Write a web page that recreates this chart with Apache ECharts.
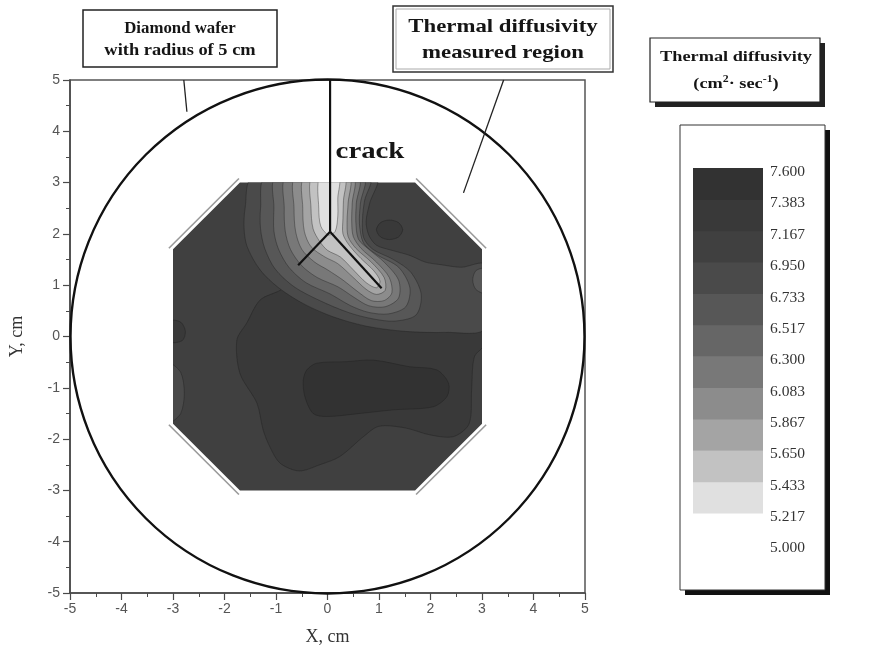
<!DOCTYPE html>
<html><head><meta charset="utf-8">
<script src="https://cdn.jsdelivr.net/npm/echarts@6/dist/echarts.min.js"></script>
<style>html,body{margin:0;padding:0;background:#fff}#c{width:869px;height:654px}</style>
</head><body><div id="c"></div>
<script>
// ---- colour scale (legend) ----
const levels = [5.000, 5.217, 5.433, 5.650, 5.867, 6.083, 6.300, 6.517, 6.733, 6.950, 7.167, 7.383, 7.600];
// one colour per drawn band, from [5.217,5.433] up to [7.383,7.600]
const bandColors = ['#e0e0e0','#c2c2c2','#a4a4a4','#8c8c8c','#787878','#666666','#575757','#4a4a4a','#404040','#393939','#323232'];

// ---- measured region (octagon) and contour regions, in cm ----
const octagon = [[-1.7,3],[1.7,3],[3,1.7],[3,-1.7],[1.7,-3],[-1.7,-3],[-3,-1.7],[-3,1.7]];
const centralLow = [[-0.92,0.9],[-1.31,0.71],[-1.57,0.26],[-1.76,-0.07],[-1.70,-0.72],[-1.37,-1.30],[-1.25,-1.82],[-1.12,-2.15],[-0.92,-2.47],[-0.55,-2.62],[-0.15,-2.5],[0.24,-2.34],[0.7,-1.95],[1.0,-1.75],[1.5,-1.78],[2.0,-1.92],[2.45,-1.95],[2.75,-1.7],[2.8,-1.0],[2.85,-0.4],[3.05,-0.15],[3.05,0.3],[1.5,0.3],[0.5,0.45],[-0.3,0.75],[-0.8,1.0]];
const bottomBlob = [[-0.40,-0.65],[-0.21,-0.52],[0.37,-0.49],[0.89,-0.46],[1.60,-0.59],[2.12,-0.65],[2.35,-0.91],[2.32,-1.17],[2.05,-1.37],[1.28,-1.43],[0.63,-1.50],[-0.02,-1.56],[-0.28,-1.50],[-0.44,-1.17],[-0.47,-0.85]];
const darkSpotTop = [[0.95,2.08],[1.03,2.22],[1.2,2.27],[1.38,2.22],[1.46,2.08],[1.38,1.94],[1.2,1.89],[1.03,1.94]];
const darkSpotLeft = [[-3.05,0.3],[-2.85,0.28],[-2.76,0.1],[-2.82,-0.08],[-3.05,-0.1]];
const lightPatchLeft = [[-3.05,-0.55],[-2.85,-0.7],[-2.78,-1.1],[-2.85,-1.5],[-3.05,-1.65]];
const lightSpotRight = [[3.05,0.85],[2.88,0.92],[2.82,1.1],[2.88,1.28],[3.05,1.32]];
const crackZone1 = [[-1.45,3.1],[-1.6,2.5],[-1.62,2.1],[-1.56,1.75],[-1.31,1.30],[-0.95,0.95],[-0.45,0.63],[0.12,0.38],[0.76,0.2],[1.5,0.1],[2.3,0.08],[3.05,0.15],[3.05,1.4],[2.6,1.35],[2.2,1.4],[1.9,1.45],[1.6,1.58],[1.25,1.68],[0.95,1.78],[0.8,1.98],[0.75,2.25],[0.82,2.6],[0.95,3.1]];
const crackZone2 = [[-1.2,3.1],[-1.3,2.5],[-1.3,2.1],[-1.22,1.72],[-1.02,1.32],[-0.65,0.97],[-0.15,0.7],[0.4,0.47],[0.85,0.35],[1.3,0.3],[1.72,0.42],[1.82,0.82],[1.62,1.25],[1.28,1.5],[0.88,1.7],[0.7,1.93],[0.68,2.3],[0.72,2.65],[0.82,3.1]];
const crackZone3 = [[-1.0,3.1],[-1.04,2.5],[-1.04,2.05],[-0.95,1.7],[-0.75,1.35],[-0.42,1.05],[0.05,0.83],[0.45,0.6],[0.8,0.47],[1.18,0.44],[1.52,0.58],[1.6,0.95],[1.38,1.35],[0.95,1.6],[0.7,1.82],[0.62,2.2],[0.64,2.6],[0.7,3.1]];
const crackZone4 = [[-0.8,3.1],[-0.84,2.5],[-0.82,2.05],[-0.72,1.7],[-0.5,1.38],[-0.2,1.15],[0.2,0.97],[0.52,0.76],[0.8,0.6],[1.12,0.58],[1.38,0.75],[1.38,1.1],[1.1,1.45],[0.8,1.7],[0.6,1.9],[0.55,2.25],[0.56,2.6],[0.6,3.1]];
const crackZone5 = [[-0.62,3.1],[-0.65,2.5],[-0.62,2.05],[-0.5,1.7],[-0.25,1.45],[0.0,1.3],[0.3,1.1],[0.58,0.88],[0.85,0.7],[1.1,0.7],[1.25,0.85],[1.2,1.15],[0.95,1.45],[0.65,1.72],[0.5,1.95],[0.47,2.25],[0.48,2.6],[0.5,3.1]];
const crackZone6 = [[-0.45,3.1],[-0.48,2.5],[-0.45,2.05],[-0.32,1.75],[-0.05,1.55],[0.2,1.42],[0.5,1.15],[0.75,0.92],[0.95,0.82],[1.12,0.9],[1.1,1.15],[0.85,1.45],[0.55,1.72],[0.4,1.95],[0.38,2.25],[0.4,2.6],[0.42,3.1]];
const crackZone7 = [[-0.3,3.1],[-0.32,2.5],[-0.28,2.1],[-0.15,1.85],[0.0,1.68],[0.25,1.55],[0.5,1.3],[0.75,1.05],[0.95,0.95],[1.02,1.08],[0.9,1.28],[0.65,1.52],[0.42,1.78],[0.3,2.0],[0.3,2.3],[0.31,2.65],[0.33,3.1]];
const crackZone8 = [[-0.15,3.1],[-0.17,2.5],[-0.13,2.15],[0.02,1.98],[0.15,2.05],[0.2,2.35],[0.2,2.7],[0.22,3.1]];

// thermal diffusivity value inside each region (cm^2/s)
const regionValues = [7.05, 7.27, 7.50, 7.27, 7.27, 6.85, 6.85, 6.62, 6.40, 6.20, 5.97, 5.75, 5.54, 5.30, 6.62];
const regionPaths = [octagon, centralLow, bottomBlob, darkSpotTop, darkSpotLeft, lightPatchLeft, crackZone1, crackZone2, crackZone3, crackZone4, crackZone5, crackZone6, crackZone7, crackZone8, lightSpotRight];

// ---- wafer, crack and annotation lines (cm) ----
const waferRadius = 5;
const crackTrunk = [[0.05,5.0],[0.05,2.04]];
const crackLeft = [[0.05,2.04],[-0.57,1.39]];
const crackRight = [[0.05,2.04],[1.05,0.94]];
const pointerWafer = [[-2.79,5.0],[-2.73,4.38]];
const pointerRegion = [[3.42,5.0],[2.64,2.80]];
const edgeMarks = [
  [[-1.72,3.08],[-3.08,1.72]],
  [[1.72,3.08],[3.08,1.72]],
  [[3.08,-1.72],[1.72,-3.08]],
  [[-1.72,-3.08],[-3.08,-1.72]]
];

function colorOf(v){
  for (let i = 1; i < levels.length - 1; i++) {
    if (v >= levels[i] && v < levels[i+1]) return bandColors[i-1];
  }
  return v < levels[1] ? bandColors[0] : bandColors[bandColors.length-1];
}

const lineItems = [
  {pts: crackTrunk, c:'#111', w:2.2},
  {pts: crackLeft, c:'#111', w:2.2},
  {pts: crackRight, c:'#111', w:2.2},
  {pts: pointerWafer, c:'#222', w:1.3},
  {pts: pointerRegion, c:'#222', w:1.3}
].concat(edgeMarks.map(p => ({pts:p, c:'#9a9a9a', w:1.6})));

const bands = [];
for (let i = 1; i < levels.length - 1; i++) bands.push([levels[i], levels[i+1], bandColors[i-1]]);

const chart = echarts.init(document.getElementById('c'), null, {renderer:'canvas'});
const axisCol = '#4a4a4a';
const tickFont = {color:'#555', fontSize:14, fontFamily:'Liberation Sans'};

function txt(x, y, text, size, sx){
  return {type:'text', x:x, y:y, scaleX:sx, z:10,
    style:{text:text, fill:'#151515', font:'bold '+size+'px "Liberation Serif"', align:'center', verticalAlign:'middle', textAlign:'center', textVerticalAlign:'middle'}};
}

chart.setOption({
  animation:false,
  backgroundColor:'#fff',
  grid:[
    {left:70, top:80, width:515, height:513, show:true, borderColor:'#555', borderWidth:1.5, backgroundColor:'transparent'},
    {left:693, top:168, width:70, height:376.4}
  ],
  xAxis:[
    {type:'value', gridIndex:0, min:-5, max:5, interval:1,
     axisLine:{show:true, onZero:false, lineStyle:{color:axisCol, width:1.6}},
     axisTick:{show:true, length:7, lineStyle:{color:axisCol, width:1.2}},
     minorTick:{show:true, splitNumber:2, length:4, lineStyle:{color:axisCol, width:1}},
     splitLine:{show:false},
     axisLabel:Object.assign({margin:9}, tickFont),
     name:'X, cm', nameLocation:'middle', nameGap:35,
     nameTextStyle:{fontFamily:'Liberation Serif', fontSize:18, color:'#333'}},
    {type:'value', gridIndex:1, min:0, max:1, show:false}
  ],
  yAxis:[
    {type:'value', gridIndex:0, min:-5, max:5, interval:1,
     axisLine:{show:true, onZero:false, lineStyle:{color:axisCol, width:1.6}},
     axisTick:{show:true, length:7, lineStyle:{color:axisCol, width:1.2}},
     minorTick:{show:true, splitNumber:2, length:4, lineStyle:{color:axisCol, width:1}},
     splitLine:{show:false},
     axisLabel:Object.assign({margin:10}, tickFont),
     name:'Y, cm', nameLocation:'middle', nameGap:44, nameRotate:90,
     nameTextStyle:{fontFamily:'Liberation Serif', fontSize:18, color:'#333'}},
    {type:'value', gridIndex:1, min:5, max:7.6, position:'right', z:30,
     axisLine:{show:false}, axisTick:{show:false}, splitLine:{show:false},
     axisLabel:{customValues:levels, formatter:v => Number(v).toFixed(3), fontFamily:'Liberation Serif', fontSize:15.5, color:'#333', margin:7, verticalAlign:'top', lineHeight:8}}
  ],
  series:[
    {type:'custom', name:'contours', xAxisIndex:0, yAxisIndex:0, silent:true, clip:false, z:2,
     data: regionPaths.map(p => p[0]),
     renderItem:function(params, api){
       const path = regionPaths[params.dataIndex];
       const v = regionValues[params.dataIndex];
       const pts = path.map(p => api.coord(p));
       const isBase = params.dataIndex === 0;
       const el = {type:'polygon', shape:{points:pts, smooth: isBase ? 0 : 0.3},
         style:{fill:colorOf(v), stroke: isBase ? null : 'rgba(30,30,30,0.55)', lineWidth: isBase ? 0 : 0.7}};
       if (!isBase) el.clipPath = {type:'polygon', shape:{points: octagon.map(p => api.coord(p))}};
       return el;
     }},
    {type:'custom', name:'wafer', xAxisIndex:0, yAxisIndex:0, silent:true, clip:false, z:3,
     data:[[0,0]],
     renderItem:function(params, api){
       const c = api.coord([0,0]);
       const s = api.size([waferRadius, waferRadius]);
       return {type:'circle', shape:{cx:c[0], cy:c[1], r:(s[0]+s[1])/2},
         style:{fill:'none', stroke:'#111', lineWidth:2.4}};
     }},
    {type:'custom', name:'lines', xAxisIndex:0, yAxisIndex:0, silent:true, clip:false, z:4,
     data: lineItems.map(l => l.pts[0]),
     renderItem:function(params, api){
       const l = lineItems[params.dataIndex];
       return {type:'polyline', shape:{points:l.pts.map(p => api.coord(p))},
         style:{fill:'none', stroke:l.c, lineWidth:l.w}};
     }},
    {type:'custom', name:'colorbar', xAxisIndex:1, yAxisIndex:1, silent:true, z:12,
     data: bands.map(b => [0, b[0]]),
     renderItem:function(params, api){
       const b = bands[params.dataIndex];
       const p1 = api.coord([0, b[1]]);
       const p2 = api.coord([1, b[0]]);
       return {type:'rect', shape:{x:p1[0], y:p1[1], width:p2[0]-p1[0], height:p2[1]-p1[1]+0.5},
         style:{fill:b[2]}};
     }}
  ],
  graphic:{elements:[
    {type:'rect', shape:{x:83, y:10, width:194, height:57}, z:9, style:{fill:'#fff', stroke:'#222', lineWidth:1.5}},
    txt(180, 29, 'Diamond wafer', 16, 1.05),
    txt(180, 51, 'with radius of 5 cm', 16, 1.15),
    {type:'rect', shape:{x:393, y:6, width:220, height:66}, z:9, style:{fill:'#fff', stroke:'#333', lineWidth:1.5}},
    {type:'rect', shape:{x:396, y:9, width:214, height:60}, z:9, style:{fill:'none', stroke:'#aaa', lineWidth:1}},
    txt(503, 27, 'Thermal diffusivity', 19, 1.2),
    txt(503, 53, 'measured region', 19, 1.2),
    {type:'rect', shape:{x:655, y:43, width:170, height:64}, z:8, style:{fill:'#222'}},
    {type:'rect', shape:{x:650, y:38, width:170, height:64}, z:9, style:{fill:'#fff', stroke:'#222', lineWidth:1.2}},
    txt(736, 57, 'Thermal diffusivity', 15.5, 1.18),
    {type:'text', x:736, y:84, scaleX:1.18, z:10,
     style:{text:'{a|(cm}{s|2}{a|· sec}{s|-1}{a|)}', align:'center', verticalAlign:'middle', textAlign:'center', textVerticalAlign:'middle',
       rich:{a:{font:'bold 15.5px "Liberation Serif"', fill:'#151515', color:'#151515', lineHeight:20},
             s:{font:'bold 10px "Liberation Serif"', fill:'#151515', color:'#151515', verticalAlign:'top', lineHeight:12}}}},
    {type:'rect', shape:{x:685, y:130, width:145, height:465}, z:8, style:{fill:'#111'}},
    {type:'rect', shape:{x:680, y:125, width:145, height:465}, z:9, style:{fill:'#fff', stroke:'#333', lineWidth:1}},
    txt(370, 152, 'crack', 24, 1.2)
  ]}
});
</script>
</body></html>
